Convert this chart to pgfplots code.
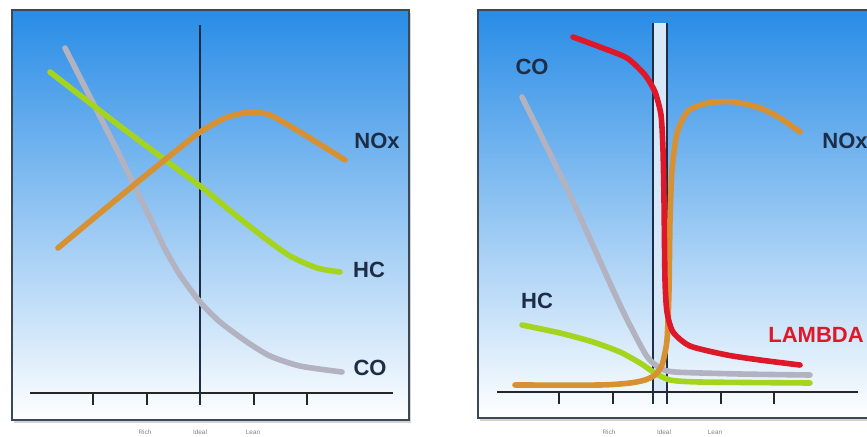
\documentclass[border=0pt]{standalone}
\usepackage{pgfplots}
\pgfplotsset{compat=1.18}
\usepackage{fontspec}
\setmainfont{Liberation Sans}
\usetikzlibrary{shadows}
\definecolor{skytop}{RGB}{40,140,230}
\definecolor{skymid}{RGB}{150,200,242}
\definecolor{cogray}{RGB}{178,178,192}
\definecolor{hcgreen}{RGB}{165,212,30}
\definecolor{noxorange}{RGB}{216,145,50}
\definecolor{lamred}{RGB}{222,24,40}
\definecolor{navy}{RGB}{30,45,70}
\definecolor{frame}{RGB}{60,72,88}
\definecolor{band}{RGB}{215,232,248}
\pgfplotsset{
  panel/.style={
    scale only axis, y dir=reverse, clip=false,
    xtick=\empty, ytick=\empty,
    axis line style={frame, line width=1pt},
    axis background/.style={top color=skytop, middle color=skymid, bottom color=white,
      drop shadow={opacity=0.35, shadow xshift=1.2pt, shadow yshift=-1.5pt}},
  },
  curve/.style={line width=2.8pt, line cap=round, line join=round, smooth, tension=0.4, no markers},
}
\newcommand{\lbl}[1]{\bfseries\fontsize{11}{11}\selectfont #1}
\newcommand{\tinylbl}[1]{\fontsize{3.2}{3.2}\selectfont #1}
\begin{document}
\begin{tikzpicture}
\useasboundingbox (0,0) rectangle (433.5pt,-218.5pt);
% ---------------- left panel ----------------
\begin{axis}[panel, at={(6pt,-210pt)}, anchor=south west,
  width=198.5pt, height=205pt, xmin=12, xmax=409, ymin=10, ymax=420]
  \draw[black!85, line width=0.6pt] (axis cs:30,393) -- (axis cs:393,393);
  \draw[black!85, line width=0.6pt] (axis cs:93,393) -- (axis cs:93,405);
  \draw[black!85, line width=0.6pt] (axis cs:147,393) -- (axis cs:147,405);
  \draw[black!85, line width=0.6pt] (axis cs:254,393) -- (axis cs:254,405);
  \draw[black!85, line width=0.6pt] (axis cs:307,393) -- (axis cs:307,405);
  \addplot[navy, line width=0.6pt] coordinates {(200,25) (200,405)};
  % CO
  \addplot[curve, cogray] coordinates {(65,48) (90,97) (117,150) (137,191) (152,222) (165,249) (180,275) (200,302) (220,322) (247,342) (270,356) (300,366) (342,372)};
  % HC
  \addplot[curve, hcgreen] coordinates {(50,72) (125,130) (200,186) (233,213) (262,236) (290,256) (317,268) (340,272)};
  % NOx
  \addplot[curve, noxorange] coordinates {(58,248) (100,213) (140,180) (177,150) (200,132) (225,118) (250,112) (270,115) (300,132) (345,160)};
  \node[navy] at (axis cs:377,141) {\lbl{NOx}};
  \node[navy] at (axis cs:369,270) {\lbl{HC}};
  \node[navy] at (axis cs:370,368) {\lbl{CO}};
  \node[gray] at (axis cs:145,432) {\tinylbl{Rich}};
  \node[gray] at (axis cs:200,432) {\tinylbl{Ideal}};
  \node[gray] at (axis cs:253,432) {\tinylbl{Lean}};
\end{axis}
% ---------------- right panel ----------------
\begin{axis}[panel, at={(239pt,-209pt)}, anchor=south west,
  width=197pt, height=204pt, xmin=478, xmax=872, ymin=10, ymax=418]
  \addplot[fill=band, draw=none] coordinates {(653,23) (667,23) (667,392) (653,392)} -- cycle;
  \draw[black!85, line width=0.6pt] (axis cs:497,392) -- (axis cs:858,392);
  \draw[black!85, line width=0.6pt] (axis cs:559,392) -- (axis cs:559,404);
  \draw[black!85, line width=0.6pt] (axis cs:613,392) -- (axis cs:613,404);
  \draw[black!85, line width=0.6pt] (axis cs:721,392) -- (axis cs:721,404);
  \draw[black!85, line width=0.6pt] (axis cs:774,392) -- (axis cs:774,404);
  \addplot[navy, line width=0.6pt] coordinates {(653,23) (653,404)};
  \addplot[navy, line width=0.6pt] coordinates {(667,23) (667,404)};
  % CO
  \addplot[curve, cogray] coordinates {(522,97) (570,195) (620,305) (646,355) (660,368) (675,372) (740,374) (810,375)};
  % HC
  \addplot[curve, hcgreen] coordinates {(522,325) (560,333) (593,342) (620,352) (640,363) (655,373) (670,380) (700,382) (810,383)};
  % NOx
  \addplot[curve, noxorange] coordinates {(515,385) (600,385) (630,383) (645,380) (655,375) (662,365) (667,340) (669,290) (670,220) (672,170) (677,133) (687,112) (700,105) (715,102) (735,102) (760,108) (780,118) (800,132)};
  % LAMBDA
  \addplot[curve, lamred] coordinates {(573,37) (600,47) (627,58) (645,75) (655,92) (661,115) (663,150) (664,200) (665,280) (667,312) (673,332) (690,346) (727,355) (760,360) (800,365)};
  \node[navy] at (axis cs:532,67) {\lbl{CO}};
  \node[navy] at (axis cs:845,141) {\lbl{NOx}};
  \node[navy] at (axis cs:537,301) {\lbl{HC}};
  \node[lamred] at (axis cs:816,335) {\lbl{LAMBDA}};
  \node[gray] at (axis cs:609,432) {\tinylbl{Rich}};
  \node[gray] at (axis cs:664,432) {\tinylbl{Ideal}};
  \node[gray] at (axis cs:715,432) {\tinylbl{Lean}};
\end{axis}
\end{tikzpicture}
\end{document}
